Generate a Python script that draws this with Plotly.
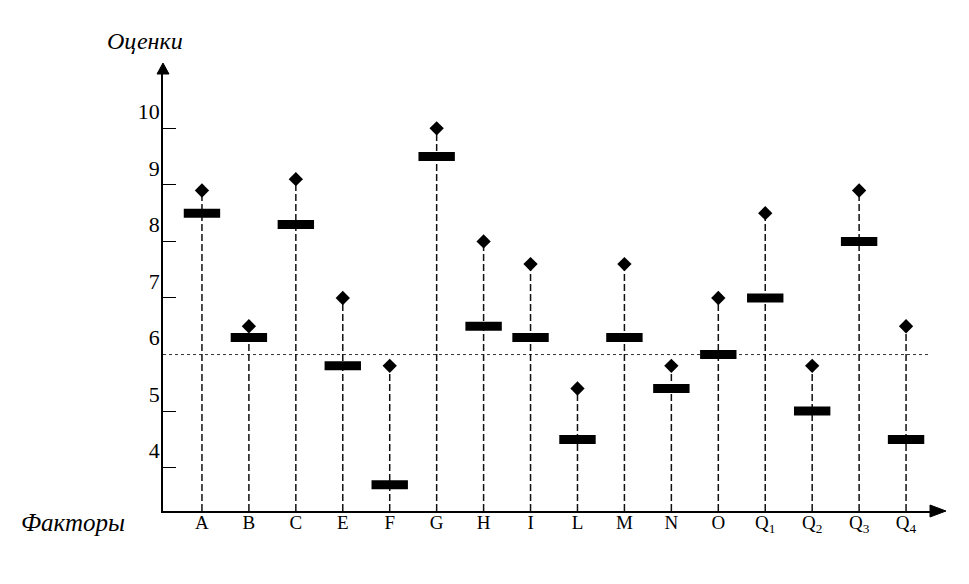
import plotly.graph_objects as go

# ---- data ----
factors = ["A", "B", "C", "E", "F", "G", "H", "I", "L", "M", "N", "O",
           "Q1", "Q2", "Q3", "Q4"]
factor_labels = ["A", "B", "C", "E", "F", "G", "H", "I", "L", "M", "N", "O",
                 "Q<sub>1</sub>", "Q<sub>2</sub>", "Q<sub>3</sub>", "Q<sub>4</sub>"]
max_scores = [8.9, 6.5, 9.1, 7.0, 5.8, 10.0, 8.0, 7.6, 5.4, 7.6, 5.8, 7.0,
              8.5, 5.8, 8.9, 6.5]
mean_scores = [8.5, 6.3, 8.3, 5.8, 3.7, 9.5, 6.5, 6.3, 4.5, 6.3, 5.4, 6.0,
               7.0, 5.0, 8.0, 4.5]
y_ticks = [4, 5, 6, 7, 8, 9, 10]
y_tick_marks = [4, 5, 7, 8, 9, 10]
reference_level = 6
y_title = "Оценки"
x_title = "Факторы"

Y_MIN, Y_MAX = 3.234, 10.96
SERIF = "Liberation Serif, Times New Roman, serif"

fig = go.Figure()

# dashed stems from the axis up to the maximum score
stem_x, stem_y = [], []
for f, v in zip(factors, max_scores):
    stem_x += [f, f, None]
    stem_y += [Y_MIN, v, None]
fig.add_trace(go.Scatter(
    x=stem_x, y=stem_y, mode="lines",
    line=dict(color="#111111", width=1.5, dash="7px,3px"),
    hoverinfo="skip", showlegend=False))

# mean scores: thick black bars
fig.add_trace(go.Scatter(
    x=factors, y=mean_scores, mode="markers",
    marker=dict(symbol="line-ew", size=26, color="black",
                line=dict(color="black", width=9)),
    showlegend=False, cliponaxis=False))

# max scores: diamonds
fig.add_trace(go.Scatter(
    x=factors, y=max_scores, mode="markers",
    marker=dict(symbol="diamond", size=11, color="black"),
    showlegend=False, cliponaxis=False))

# dotted reference line at 6
fig.add_shape(type="line", xref="paper", yref="y", x0=0, x1=1.0,
              y0=reference_level, y1=reference_level,
              line=dict(color="#333333", width=1, dash="dot"), layer="below")

# axis arrowheads
fig.add_shape(type="path", xref="paper", yref="paper",
              xsizemode="pixel", ysizemode="pixel", xanchor=1, yanchor=0,
              path="M 0 6 L 16 0 L 0 -6 Z", fillcolor="black",
              line=dict(color="black", width=1))
fig.add_shape(type="path", xref="paper", yref="paper",
              xsizemode="pixel", ysizemode="pixel", xanchor=0, yanchor=1,
              path="M -6 0 L 0 11 L 6 0 Z", fillcolor="black",
              line=dict(color="black", width=1))

# axis titles
fig.add_annotation(text=y_title, xref="paper", yref="paper", x=0, y=1.0,
                   xanchor="center", yanchor="bottom", yshift=18, xshift=-18,
                   showarrow=False,
                   font=dict(family=SERIF, size=24, color="black", style="italic"))
fig.add_annotation(text=x_title, xref="paper", yref="paper", x=0, y=0,
                   xanchor="right", yanchor="middle", xshift=-36, yshift=-11,
                   showarrow=False,
                   font=dict(family=SERIF, size=25, color="black", style="italic"))

fig.update_layout(
    width=969, height=584,
    margin=dict(l=163, r=39, t=74, b=73),
    paper_bgcolor="white", plot_bgcolor="white",
    showlegend=False,
    xaxis=dict(
        type="category", categoryorder="array", categoryarray=factors,
        tickvals=factors, ticktext=factor_labels,
        range=[-0.83, 15.51],
        showline=True, linecolor="black", linewidth=1.5,
        ticks="", showgrid=False, zeroline=False,
        ticklabelstandoff=-7,
        tickfont=dict(family=SERIF, size=19, color="black"),
    ),
    yaxis=dict(
        range=[Y_MIN, Y_MAX],
        tickvals=y_ticks, ticktext=[str(t) for t in y_ticks],
        showline=True, linecolor="black", linewidth=1.5,
        ticks="", showgrid=False, zeroline=False,
        ticklabelshift=-17, ticklabelstandoff=-3,
        tickfont=dict(family=SERIF, size=22, color="black"),
        minor=dict(tickvals=y_tick_marks, ticks="inside", ticklen=13,
                   tickwidth=1.2, tickcolor="black", showgrid=False),
    ),
)

fig.write_html("out.html", config={"displayModeBar": False},
               post_script="document.body.style.margin='0px';")
